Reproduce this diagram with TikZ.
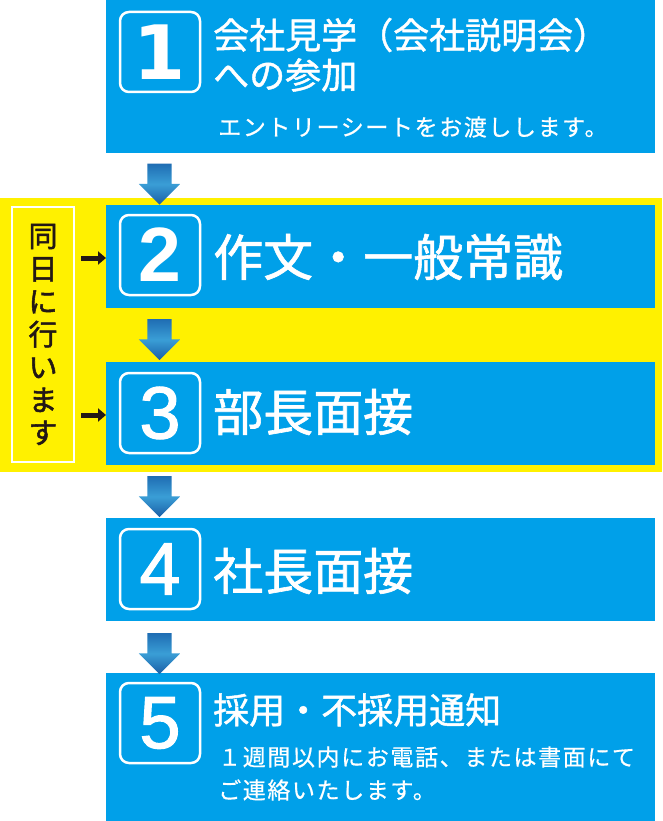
\documentclass[tikz,border=0pt]{standalone}
\usepackage{fontspec}
\usetikzlibrary{shapes.arrows,arrows.meta}
\newfontfamily\jp{Noto Sans CJK JP}[FakeBold=0.6,LetterSpace=7]
\newfontfamily\jpm{Noto Sans CJK JP}[FakeBold=1.2]
\newfontfamily\jpk{Noto Sans CJK JP}[FakeBold=1.8]
\newfontfamily\dvs{DejaVu Sans}
\newfontfamily\lsans{Liberation Sans}
\newfontfamily\lsansm{Liberation Sans}[FakeBold=1.5]
\definecolor{cblue}{HTML}{00A0E9}
\definecolor{cyellow}{HTML}{FFF100}
\definecolor{cink}{HTML}{231815}
\definecolor{arTop}{HTML}{1F6DB3}
\definecolor{arMid}{HTML}{3A9ED6}
\definecolor{arBot}{HTML}{1A5EA6}
\tikzset{
  bluebox/.style={fill=cblue, draw=none, anchor=north west, inner sep=0pt},
  numbox/.style={draw=white, line width=2.5pt, rounded corners=9pt, minimum width=80pt, minimum height=80pt, inner sep=0pt, text=white},
  barrow/.style={single arrow, shape border rotate=270, draw=none, minimum height=41pt, minimum width=41pt, single arrow head extend=8.5pt, single arrow tip angle=90, inner sep=12pt, top color=arTop, bottom color=arBot, middle color=arMid},
  title/.style={anchor=west, inner sep=0pt, text=white, font=\jpm\fontsize{50}{60}\selectfont},
  titlesm/.style={anchor=west, inner sep=0pt, text=white, font=\jpm\fontsize{36}{42}\selectfont},
  subtxt/.style={anchor=west, inner sep=0pt, text=white, font=\jp\fontsize{23}{28}\selectfont},
  karrow/.style={-{Triangle[length=8pt,width=13pt]}, line width=5pt, draw=cink}
}
\begin{document}
\begin{tikzpicture}[x=1pt,y=-1pt]
\useasboundingbox (0,0) rectangle (662,821);
% yellow band
\fill[cyellow] (0,198) rectangle (662,472);
% boxes
\node[bluebox, minimum width=549pt, minimum height=153pt] (b1) at (106,0) {};
\node[bluebox, minimum width=549pt, minimum height=103pt] (b2) at (106,205) {};
\node[bluebox, minimum width=549pt, minimum height=103pt] (b3) at (106,362) {};
\node[bluebox, minimum width=549pt, minimum height=103pt] (b4) at (106,518) {};
\node[bluebox, minimum width=549pt, minimum height=148pt] (b5) at (106,673) {};
% number squares
\node[numbox, font=\dvs\bfseries\fontsize{75}{75}\selectfont] (n1) at (160,52) {1};
\node[numbox, font=\lsans\bfseries\fontsize{77}{77}\selectfont] (n2) at (160,255) {2};
\node[numbox, font=\lsansm\fontsize{74}{74}\selectfont] (n3) at (160,413) {3};
\node[numbox, font=\lsansm\fontsize{74}{74}\selectfont] (n4) at (160,569) {4};
\node[numbox, font=\lsansm\fontsize{74}{74}\selectfont] (n5) at (160,723) {5};
% titles
\node[titlesm] (t1a) at (213,35) {会社見学（会社説明会）};
\node[titlesm] (t1b) at (213,75) {への参加};
\node[subtxt] (s1) at (218,127) {エントリーシートをお渡しします。};
\node[title] (t2) at (213,257) {作文・一般常識};
\node[title] (t3) at (213,412) {部長面接};
\node[title] (t4) at (213,571) {社長面接};
\node[titlesm] (t5) at (213,710) {採用・不採用通知};
\node[subtxt] (s5a) at (218,757) {１週間以内にお電話、または書面にて};
\node[subtxt] (s5b) at (218,790) {ご連絡いたします。};
% blue arrows
\node[barrow] (a1) at (159.5,178) {};
\node[barrow] (a2) at (159.5,333.5) {};
\node[barrow] (a3) at (159.5,490.5) {};
\node[barrow] (a4) at (159.5,647.5) {};
% side label
\node[draw=white, line width=2pt, fill=cyellow, minimum width=62pt, minimum height=255pt, inner sep=0pt] (lbl) at (43,334.5) {};
\node[text=cink, align=center, font=\jpk\fontsize{29}{32.8}\selectfont, inner sep=0pt] (lbltxt) at (lbl.center) {同\\日\\に\\行\\い\\ま\\す};
% small black arrows
\coordinate (k1) at (81,258);
\coordinate (k2) at (81,415);
\draw[karrow] (k1) -- (k1 -| b2.west);
\draw[karrow] (k2) -- (k2 -| b3.west);
\end{tikzpicture}
\end{document}
